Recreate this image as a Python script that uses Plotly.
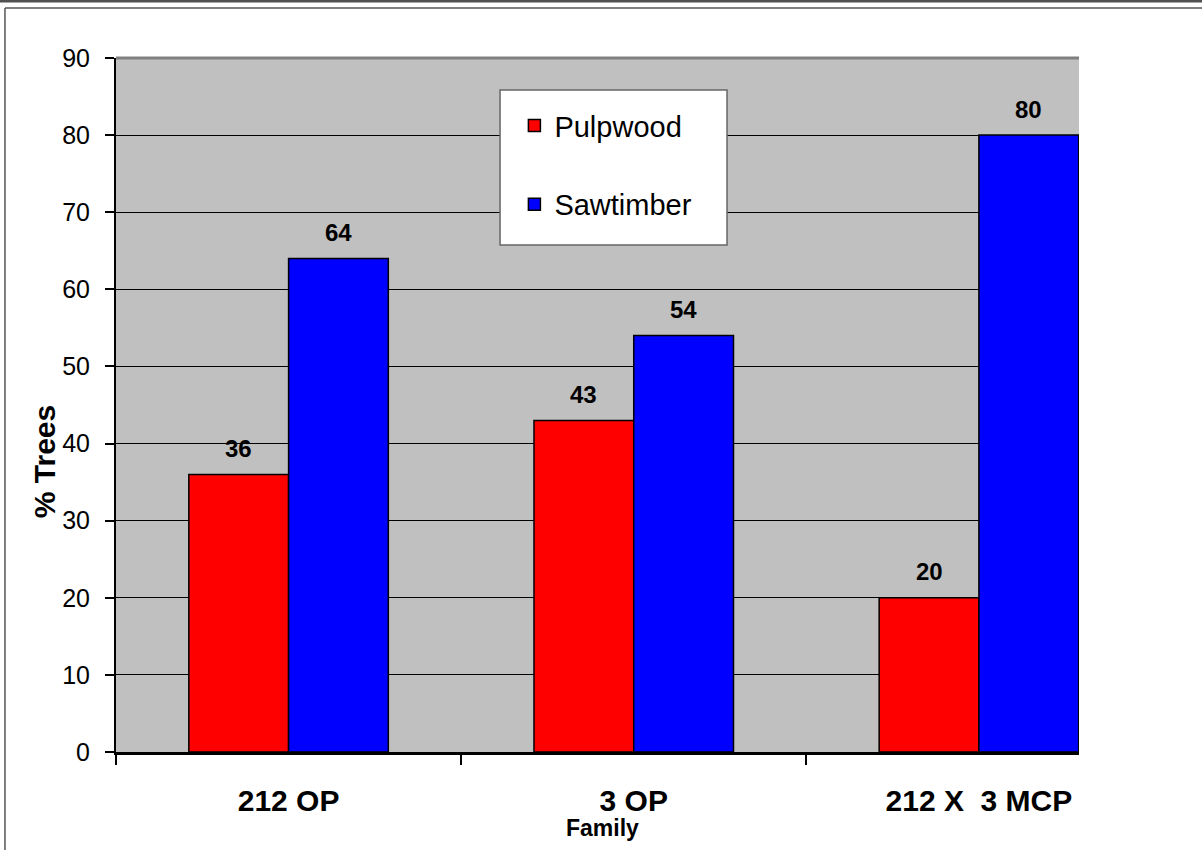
import plotly.graph_objects as go

# Share of trees by product class for each family
families = ["212 OP", "3 OP", "212 X\u00a0 3 MCP"]
pulpwood = [36, 43, 20]
sawtimber = [64, 54, 80]
y_ticks = [0, 10, 20, 30, 40, 50, 60, 70, 80, 90]

FONT = "Arial, Liberation Sans, sans-serif"
BARGAP = 0.422
half = (1 - BARGAP) / 4  # offset of each bar centre from its category centre

fig = go.Figure()
fig.add_trace(go.Bar(
    name="Pulpwood", x=list(range(len(families))), y=pulpwood,
    marker=dict(color="#FF0000", line=dict(color="black", width=1.5)),
    legendgroup="p",
))
fig.add_trace(go.Bar(
    name="Sawtimber", x=list(range(len(families))), y=sawtimber,
    marker=dict(color="#0000FF", line=dict(color="black", width=1.5)),
    legendgroup="s",
))

# value labels above each bar
annotations = []
for i, (p, s) in enumerate(zip(pulpwood, sawtimber)):
    for xv, yv in ((i - half, p), (i + half, s)):
        annotations.append(dict(
            x=xv, y=yv, xref="x", yref="y", text=str(yv), showarrow=False,
            yshift=26, yanchor="middle",
            font=dict(family=FONT, size=24, color="black", weight="bold"),
        ))

# axis titles
annotations.append(dict(
    x=-0.0748, y=0.419, xref="paper", yref="paper", text="% Trees",
    textangle=-90, showarrow=False, xanchor="center", yanchor="middle",
    font=dict(family=FONT, size=30, color="black", weight="bold"),
))
annotations.append(dict(
    x=0.5057, y=-0.11, xref="paper", yref="paper", text="Family",
    showarrow=False, xanchor="center", yanchor="middle",
    font=dict(family=FONT, size=23, color="black", weight="bold"),
))

shapes = [
    # legend box
    dict(type="rect", xref="paper", yref="paper",
         x0=0.3988, x1=0.6345, y0=0.7305, y1=0.9539,
         fillcolor="white", line=dict(color="#666666", width=1.5), layer="above"),
    # plot top border
    dict(type="line", xref="paper", yref="paper", x0=0, x1=1, y0=1, y1=1,
         line=dict(color="#808080", width=3), layer="above"),
    # outer frame
    dict(type="line", xref="paper", yref="paper", x0=-0.1153, x1=1.2, y0=1.0720, y1=1.0720,
         line=dict(color="#555555", width=1.5), layer="above"),
    dict(type="line", xref="paper", yref="paper", x0=-0.1153, x1=-0.1153, y0=1.0720, y1=-0.2,
         line=dict(color="#555555", width=1.5), layer="above"),
    dict(type="line", xref="paper", yref="paper", x0=-0.2, x1=1.2, y0=1.0820, y1=1.0820,
         line=dict(color="#505050", width=3), layer="above"),
]

fig.update_layout(
    width=1202, height=850,
    margin=dict(l=116, r=123, t=58, b=98),
    paper_bgcolor="white", plot_bgcolor="#C0C0C0",
    barmode="group", bargap=BARGAP, bargroupgap=0,
    font=dict(family=FONT, color="black"),
    showlegend=True,
    legend=dict(
        x=0.4137, y=0.9393, xanchor="left", yanchor="top",
        bgcolor="rgba(0,0,0,0)", borderwidth=0,
        font=dict(family=FONT, size=29, color="black"),
        traceorder="grouped", tracegroupgap=38,
    ),
    annotations=annotations,
    shapes=shapes,
    xaxis=dict(
        type="linear", range=[-0.5, 2.29],
        tickmode="array", tickvals=list(range(len(families))), ticktext=families,
        showgrid=False, zeroline=False,
        showline=True, linecolor="black", linewidth=3,
        ticks="", tickfont=dict(family=FONT, size=30, color="black", weight="bold"),
        ticklabelstandoff=20,
        minor=dict(tickmode="array", tickvals=[-0.5, 0.5, 1.5], ticks="outside",
                   ticklen=10, tickwidth=2, tickcolor="black", showgrid=False),
    ),
    yaxis=dict(
        range=[0, 90], tickmode="array", tickvals=y_ticks,
        showgrid=True, gridcolor="black", gridwidth=1, zeroline=False,
        showline=True, linecolor="black", linewidth=2,
        ticks="outside", ticklen=9, tickwidth=2, tickcolor="black",
        tickfont=dict(family=FONT, size=25, color="black"),
        ticklabelstandoff=10,
    ),
)

fig.write_html("out.html")
